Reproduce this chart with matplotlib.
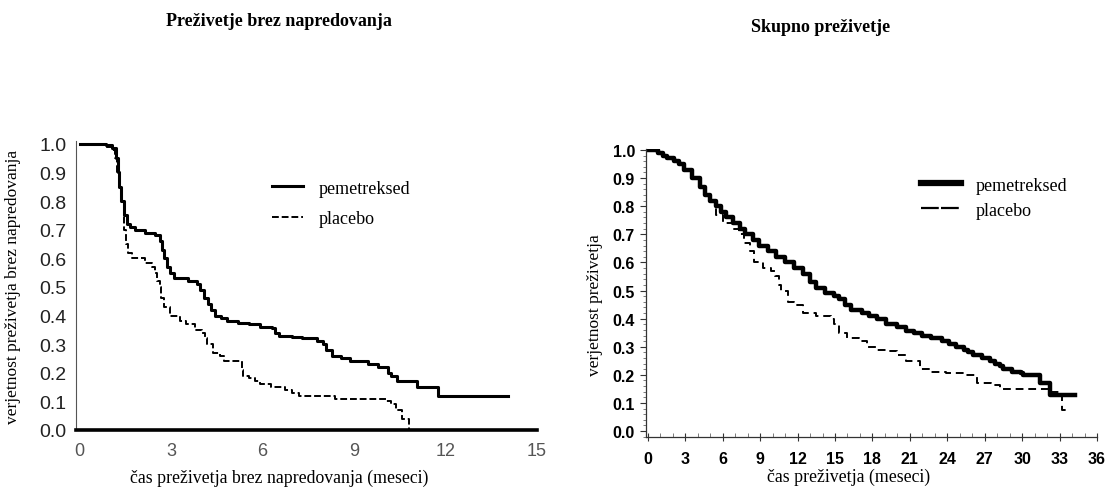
import matplotlib
matplotlib.use("Agg")
import matplotlib.pyplot as plt
from matplotlib import font_manager
from matplotlib.ticker import MultipleLocator, FormatStrFormatter
from matplotlib.lines import Line2D

# --- data ---
# progression-free survival (left)
pfs_pem_t = [0, 0.85, 1.06, 1.2, 1.25, 1.3, 1.36, 1.44, 1.55, 1.65,
             1.83, 2.13, 2.48, 2.62, 2.7, 2.78, 2.86, 2.95, 3.1, 3.54,
             3.84, 3.96, 4.07, 4.2, 4.3, 4.45, 4.65, 4.84, 5.2, 5.55,
             5.9, 6.3, 6.4, 6.55, 6.97, 7.3, 7.8, 7.97, 8.09, 8.27,
             8.56, 8.86, 9.45, 9.8, 10.1, 10.22, 10.4, 11.05, 11.75, 14.05]
pfs_pem_s = [1.0, 0.995, 0.985, 0.95, 0.9, 0.85, 0.8, 0.75, 0.72, 0.71,
             0.7, 0.69, 0.68, 0.66, 0.63, 0.6, 0.57, 0.55, 0.53, 0.52,
             0.51, 0.49, 0.46, 0.44, 0.42, 0.4, 0.39, 0.38, 0.375, 0.37,
             0.36, 0.355, 0.34, 0.33, 0.325, 0.32, 0.31, 0.30, 0.28, 0.26,
             0.25, 0.24, 0.23, 0.22, 0.20, 0.19, 0.17, 0.15, 0.12, 0.12]
pfs_pla_t = [0, 0.5, 0.85, 1.06, 1.15, 1.22, 1.3, 1.38, 1.46, 1.52,
             1.58, 1.71, 2.13, 2.36, 2.48, 2.55, 2.62, 2.68, 2.75, 2.95,
             3.3, 3.48, 3.78, 4.01, 4.1, 4.19, 4.37, 4.6, 4.72, 5.31,
             5.37, 5.55, 5.75, 5.9, 6.26, 6.73, 6.97, 7.2,
             8.38, 10.04, 10.2, 10.39, 10.57, 10.8]
pfs_pla_s = [1.0, 0.995, 0.99, 0.98, 0.95, 0.9, 0.85, 0.8, 0.7, 0.65,
             0.62, 0.6, 0.585, 0.57, 0.55, 0.52, 0.5, 0.46, 0.43, 0.4,
             0.38, 0.37, 0.35, 0.34, 0.32, 0.3, 0.27, 0.26, 0.24, 0.21,
             0.19, 0.18, 0.17, 0.16, 0.15, 0.14, 0.13, 0.12,
             0.11, 0.10, 0.09, 0.07, 0.04, 0.0]

# overall survival (right)
os_pem_t = [0, 0.8, 1.25, 1.5, 2.1, 2.5, 2.9, 3.5, 4.2, 4.6,
            5.0, 5.45, 5.9, 6.3, 6.8, 7.4, 7.8, 8.4, 8.9, 9.6,
            10.3, 11.0, 11.7, 12.4, 13.0, 13.5, 14.2, 14.9, 15.35, 15.8,
            16.3, 17.2, 17.7, 18.4, 19.1, 20.0, 20.7, 21.3, 22.0, 22.7,
            23.6, 24.1, 24.7, 25.3, 25.7, 26.1, 26.8, 27.4, 27.8, 28.2,
            28.5, 29.2, 29.9, 30.1, 31.4, 32.2, 34.2]
os_pem_s = [1.0, 0.99, 0.98, 0.97, 0.96, 0.95, 0.93, 0.90, 0.87, 0.84,
            0.82, 0.80, 0.78, 0.76, 0.74, 0.72, 0.70, 0.68, 0.66, 0.64,
            0.62, 0.60, 0.58, 0.56, 0.53, 0.51, 0.49, 0.48, 0.47, 0.45,
            0.43, 0.42, 0.41, 0.40, 0.38, 0.37, 0.355, 0.35, 0.34, 0.33,
            0.32, 0.31, 0.30, 0.29, 0.28, 0.27, 0.26, 0.25, 0.24, 0.23,
            0.22, 0.21, 0.205, 0.20, 0.17, 0.13, 0.13]
os_pla_t = [0, 0.8, 1.25, 1.5, 2.1, 2.5, 2.9, 3.5, 4.2, 4.6,
            5.0, 5.45, 6.0, 6.8, 7.3, 7.7, 8.2, 8.5, 9.2, 9.9,
            10.2, 10.5, 10.7, 11.2, 11.7, 12.4, 13.5, 14.65, 14.9, 15.35,
            16.0, 16.9, 17.6, 18.3, 19.1, 20.0, 20.7, 21.8, 22.7, 23.9,
            25.5, 26.4, 27.5, 28.2, 32.2, 33.2, 33.8]
os_pla_s = [1.0, 0.99, 0.98, 0.97, 0.96, 0.95, 0.93, 0.90, 0.87, 0.84,
            0.82, 0.77, 0.74, 0.72, 0.70, 0.67, 0.64, 0.60, 0.58, 0.57,
            0.55, 0.52, 0.50, 0.46, 0.45, 0.42, 0.41, 0.40, 0.38, 0.35,
            0.33, 0.32, 0.30, 0.29, 0.285, 0.27, 0.25, 0.22, 0.21, 0.205,
            0.20, 0.17, 0.165, 0.15, 0.14, 0.075, 0.075]

labels = ["pemetreksed", "placebo"]

# --- fonts ---
installed = {f.name for f in font_manager.fontManager.ttflist}
serif = "Liberation Serif"
narrow = "Liberation Sans Narrow" if "Liberation Sans Narrow" in installed else "Liberation Sans"

W, H = 1108, 489
fig = plt.figure(figsize=(W / 100, H / 100), dpi=100)

# ---------- left panel ----------
ax1 = fig.add_axes([76 / W, (H - 431) / H, (537 - 76) / W, (431 - 142) / H])
ax1.step(pfs_pem_t, pfs_pem_s, where="post", color="black", lw=2.2)
ax1.step(pfs_pla_t, pfs_pla_s, where="post", color="black", lw=1.4,
         linestyle=(0, (3.5, 1.5)))
ax1.set_xlim(-0.12, 15)
ax1.set_ylim(0, 1.01)
ax1.set_xticks(range(0, 16, 3))
ax1.yaxis.set_major_locator(MultipleLocator(0.1))
ax1.yaxis.set_major_formatter(FormatStrFormatter("%.1f"))
for s in ["top", "right"]:
    ax1.spines[s].set_visible(False)
ax1.spines["left"].set_linewidth(0.8)
ax1.spines["left"].set_color("#555555")
ax1.spines["bottom"].set_linewidth(2.6)
ax1.tick_params(length=0, labelsize=13, colors="#222222")
ax1.tick_params(axis="y", pad=7, labelsize=14)
ax1.tick_params(axis="x", pad=9, labelcolor="#555555")
for lab in ax1.get_xticklabels() + ax1.get_yticklabels():
    lab.set_family("Liberation Sans")
ax1.set_ylabel("verjetnost preživetja brez napredovanja", family=serif, fontsize=12.5)
ax1.yaxis.set_label_coords(-0.12, 0.5)
ax1.set_xlabel("čas preživetja brez napredovanja (meseci)", family=serif, fontsize=12.8)
ax1.xaxis.set_label_coords(0.44, -0.135)

h1 = [Line2D([], [], color="black", lw=2.2),
      Line2D([], [], color="black", lw=1.4, linestyle=(0, (3.5, 1.5)))]
ax1.legend(h1, labels, loc="upper left", bbox_to_anchor=(6.3, 0.875),
           bbox_transform=ax1.transData, frameon=False, borderpad=0,
           borderaxespad=0, handlelength=1.75, handletextpad=0.85,
           labelspacing=0.75, prop={"family": serif, "size": 13})

fig.text(279 / W, 1 - 22 / H, "Preživetje brez napredovanja", family=serif,
         weight="bold", fontsize=13, ha="center", va="center")

# ---------- right panel ----------
ax2 = fig.add_axes([646 / W, (H - 438) / H, (1097 - 646) / W, (438 - 150) / H])
ax2.step(os_pem_t, os_pem_s, where="post", color="black", lw=3.2)
ax2.step(os_pla_t, os_pla_s, where="post", color="black", lw=1.4,
         linestyle=(0, (4, 2.5)))
ax2.set_xlim(-0.15, 36)
ax2.set_ylim(-0.021, 1.0035)
ax2.xaxis.set_major_locator(MultipleLocator(3))
ax2.xaxis.set_minor_locator(MultipleLocator(1))
ax2.yaxis.set_major_locator(MultipleLocator(0.1))
ax2.yaxis.set_minor_locator(MultipleLocator(0.02))
ax2.yaxis.set_major_formatter(FormatStrFormatter("%.1f"))
for s in ["top", "right"]:
    ax2.spines[s].set_visible(False)
for s in ["left", "bottom"]:
    ax2.spines[s].set_linewidth(0.9)
    ax2.spines[s].set_color("#333333")
ax2.tick_params(axis="y", which="major", direction="out", length=4, pad=4,
                labelsize=11.5, color="#333333")
ax2.tick_params(axis="y", which="minor", direction="out", length=2, color="#666666")
ax2.tick_params(axis="x", which="major", direction="inout", length=6, pad=7,
                labelsize=11.5, color="#333333")
ax2.tick_params(axis="x", which="minor", direction="in", length=3, color="#666666")
for lab in ax2.get_xticklabels() + ax2.get_yticklabels():
    lab.set_family(narrow)
    lab.set_weight("bold")
ax2.set_ylabel("verjetnost preživetja", family=serif, fontsize=12.5)
ax2.yaxis.set_label_coords(-0.095, 0.46)
ax2.set_xlabel("čas preživetja (meseci)", family=serif, fontsize=12.8)
ax2.xaxis.set_label_coords(0.45, -0.105)

h2 = [Line2D([], [], color="black", lw=4.5),
      Line2D([], [], color="black", lw=1.6, linestyle=(0, (8, 1)))]
ax2.legend(h2, labels, loc="upper left", bbox_to_anchor=(21.9, 0.905),
           bbox_transform=ax2.transData, frameon=False, borderpad=0,
           borderaxespad=0, handlelength=2.2, handletextpad=0.8,
           labelspacing=0.45, prop={"family": serif, "size": 13})

fig.text(821 / W, 1 - 28 / H, "Skupno preživetje", family=serif,
         weight="bold", fontsize=13, ha="center", va="center")

fig.savefig("out.png", dpi=100)
